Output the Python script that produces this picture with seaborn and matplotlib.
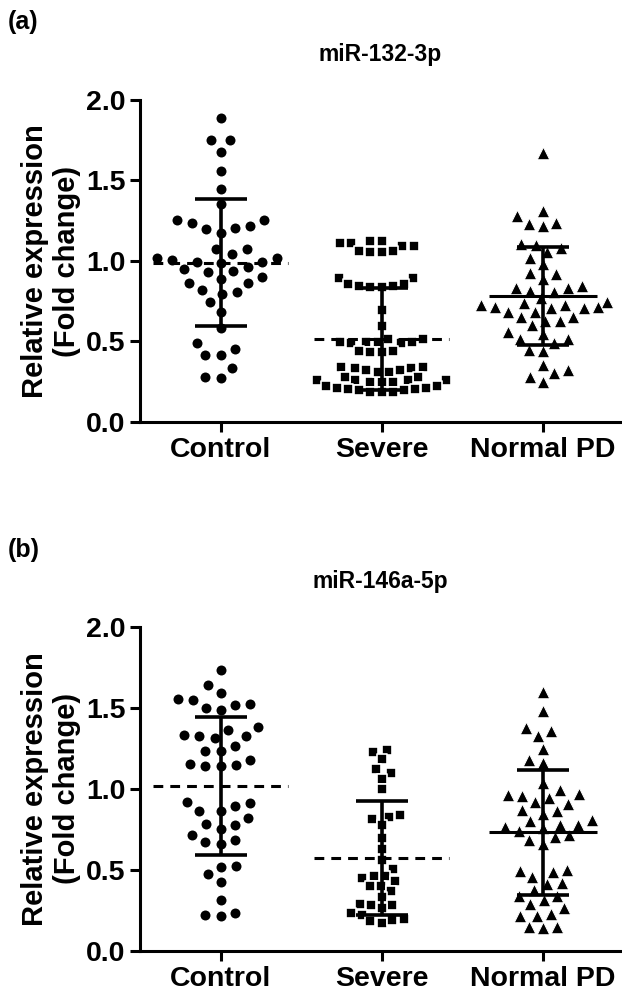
import numpy as np
import pandas as pd
import matplotlib
matplotlib.use('Agg')
import matplotlib.pyplot as plt
from matplotlib.ticker import FormatStrFormatter
import seaborn as sns
import warnings
warnings.filterwarnings('ignore')

# ============================================================
# DATA
# ============================================================
groups = ['Control', 'Severe', 'Normal PD']
titles = ['miR-132-3p', 'miR-146a-5p']
panel_tags = ['(a)', '(b)']
yticks = [0.0, 0.5, 1.0, 1.5, 2.0]

# miR-132-3p
ctrl_a = [1.886, 1.75, 1.75, 1.68, 1.56, 1.445, 1.354, 1.255, 1.255, 1.217, 1.199,
          1.176, 1.203, 1.234, 1.072, 1.072, 1.043, 1.017, 0.996, 0.986, 0.996,
          1.006, 1.021, 0.965, 0.938, 0.934, 0.95, 0.903, 0.888, 0.865, 0.865,
          0.82, 0.793, 0.805, 0.743, 0.681, 0.582, 0.489, 0.416, 0.416, 0.451,
          0.333, 0.271, 0.282]
sev_a = [1.11, 1.095, 1.124, 1.124, 1.095, 1.11, 1.06, 1.054, 1.054, 1.062, 0.892,
         0.892, 0.857, 0.847, 0.836, 0.836, 0.847, 0.857, 0.696, 0.598, 0.499,
         0.489, 0.516, 0.495, 0.495, 0.516, 0.489, 0.499, 0.443, 0.433, 0.433,
         0.443, 0.344, 0.333, 0.323, 0.323, 0.333, 0.344, 0.313, 0.282, 0.261,
         0.261, 0.251, 0.251, 0.251, 0.261, 0.261, 0.282, 0.313, 0.226, 0.209,
         0.203, 0.199, 0.184, 0.184, 0.184, 0.199, 0.203, 0.209, 0.226]
npd_a = [1.673, 1.313, 1.238, 1.219, 1.23, 1.28, 1.099, 1.058, 1.021, 1.079, 1.106,
         0.979, 0.919, 0.886, 0.923, 0.845, 0.83, 0.805, 0.747, 0.737, 0.768,
         0.814, 0.834, 0.727, 0.716, 0.706, 0.685, 0.654, 0.629, 0.602, 0.629,
         0.654, 0.685, 0.706, 0.716, 0.727, 0.547, 0.513, 0.447, 0.443, 0.493,
         0.516, 0.557, 0.354, 0.302, 0.251, 0.282, 0.323]
means_a = [0.99, 0.516, 0.783]
sds_a = [0.393, 0.318, 0.303]

# miR-146a-5p
ctrl_b = [1.733, 1.64, 1.593, 1.558, 1.551, 1.516, 1.486, 1.502, 1.527, 1.331, 1.325,
          1.383, 1.362, 1.317, 1.325, 1.265, 1.235, 1.235, 1.156, 1.142, 1.142,
          1.15, 1.177, 0.92, 0.893, 0.864, 0.864, 0.914, 0.823, 0.776, 0.755,
          0.786, 0.714, 0.683, 0.663, 0.673, 0.523, 0.519, 0.473, 0.426, 0.313,
          0.237, 0.214, 0.22]
sev_b = [1.24, 1.228, 1.183, 1.121, 1.1, 1.063, 0.997, 0.828, 0.815, 0.842, 0.78,
         0.70, 0.63, 0.56, 0.506, 0.45, 0.46, 0.464, 0.429, 0.402, 0.398, 0.367,
         0.33, 0.285, 0.264, 0.285, 0.291, 0.223, 0.196, 0.175, 0.182, 0.192,
         0.233]
npd_b = [1.6, 1.482, 1.358, 1.327, 1.373, 1.249, 1.158, 1.179, 1.034, 0.993, 0.96,
         0.941, 0.918, 0.956, 0.966, 0.91, 0.869, 0.848, 0.801, 0.807, 0.863,
         0.78, 0.76, 0.718, 0.687, 0.663, 0.702, 0.743, 0.766, 0.78, 0.502,
         0.487, 0.419, 0.374, 0.413, 0.456, 0.495, 0.341, 0.289, 0.264, 0.312,
         0.341, 0.217, 0.213, 0.229, 0.147, 0.14, 0.147]
means_b = [1.019, 0.574, 0.733]
sds_b = [0.428, 0.35, 0.385]

# ============================================================
# STYLE
# ============================================================
sns.set_theme(style='ticks')
plt.rcParams['font.family'] = ['Liberation Sans', 'DejaVu Sans']
plt.rcParams['font.weight'] = 'bold'
for k in ['text.color', 'axes.labelcolor', 'xtick.color', 'ytick.color', 'axes.edgecolor']:
    plt.rcParams[k] = 'black'

# marker, size, white edge width (edge adds spacing in the swarm like the original)
markers = {'Control': ('o', 8.8, 1.6), 'Severe': ('s', 6.5, 1.2), 'Normal PD': ('^', 9.0, 0.7)}
mean_style = {'Control': ('--', 0.42), 'Severe': ('--', 0.42), 'Normal PD': ('-', 0.335)}


def long_df(ctrl, sev, npd):
    return pd.DataFrame({
        'group': ['Control'] * len(ctrl) + ['Severe'] * len(sev) + ['Normal PD'] * len(npd),
        'value': ctrl + sev + npd,
    })


panels = [
    (long_df(ctrl_a, sev_a, npd_a), means_a, sds_a),
    (long_df(ctrl_b, sev_b, npd_b), means_b, sds_b),
]

fig = plt.figure(figsize=(6.22, 9.91), dpi=100)
ax_pos = [[0.2251, 0.5742, 0.7717, 0.3249],
          [0.2251, 0.0404, 0.7717, 0.3270]]
tag_y = [0.978, 0.445]

for i, (df, means, sds) in enumerate(panels):
    ax = fig.add_axes(ax_pos[i])
    for g in groups:
        m, s, ew = markers[g]
        sns.swarmplot(data=df[df['group'] == g], x='group', y='value', order=groups,
                      marker=m, size=s, color='black', edgecolor='white',
                      linewidth=ew, ax=ax, zorder=3)

    xpos = np.arange(len(groups))
    ax.errorbar(xpos, means, yerr=sds, fmt='none', ecolor='black',
                elinewidth=2.6, capsize=19, capthick=2.6, zorder=5)
    for x, g, mu in zip(xpos, groups, means):
        ls, hw = mean_style[g]
        if ls == '--':
            ax.hlines(mu, x - hw, x + hw, colors='black', lw=2.2,
                      linestyles=(0, (3.2, 2.3)), zorder=5)
        else:
            ax.hlines(mu, x - hw, x + hw, colors='black', lw=2.2, zorder=5)

    ax.set_xlim(-0.5, 2.48)
    ax.set_ylim(0, 2.0)
    ax.set_yticks(yticks)
    ax.yaxis.set_major_formatter(FormatStrFormatter('%.1f'))
    ax.set_xlabel('')
    ax.set_ylabel('')
    sns.despine(ax=ax)
    for sp in ['left', 'bottom']:
        ax.spines[sp].set_linewidth(2.2)
    ax.tick_params(axis='both', length=7, width=2.2, labelsize=20.5, pad=3.5)
    for lab in ax.get_xticklabels() + ax.get_yticklabels():
        lab.set_fontweight('bold')

    ax.text(0.5, 1.14, titles[i], transform=ax.transAxes, ha='center', va='center',
            fontsize=16.5, fontweight='bold')
    ax.text(-0.185, 0.5, 'Relative expression\n(Fold change)', transform=ax.transAxes,
            rotation=90, ha='center', va='center', multialignment='center',
            fontsize=21, fontweight='bold', linespacing=1.2)
    fig.text(0.012, tag_y[i], panel_tags[i], ha='left', va='center',
             fontsize=18, fontweight='bold')

fig.savefig('out.png', dpi=100)
